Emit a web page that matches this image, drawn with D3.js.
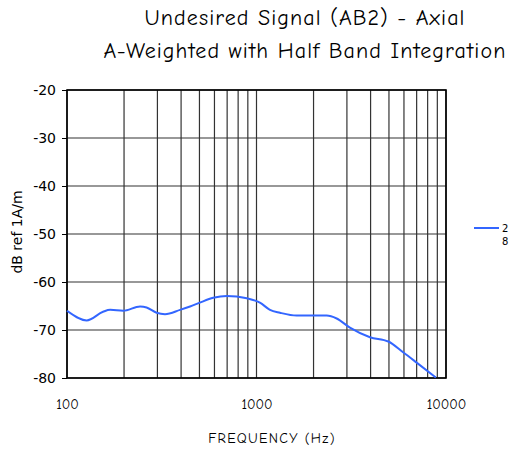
<!DOCTYPE html>
<html>
<head>
<meta charset="utf-8">
<script src="https://cdn.jsdelivr.net/npm/d3@7"></script>
<style>
  body { margin: 0; background: #fff; }
  svg { display: block; }
</style>
</head>
<body>
<svg id="chart" width="510" height="450"></svg>
<script>
// ---- data ----
const titleLines = ["Undesired Signal (AB2) - Axial", "A-Weighted with Half Band Integration"];
const freqs = [100, 127, 155, 169, 198, 243, 263, 297, 329, 395, 446, 502, 591, 696, 786, 888, 1042, 1178, 1330, 1629, 2345, 2649, 3112, 3970, 4963, 5960, 7000, 8850];
const levels = [-66, -68, -66.2, -65.8, -66, -65.1, -65.3, -66.4, -66.7, -65.8, -65.1, -64.3, -63.3, -62.9, -63, -63.4, -64.3, -65.8, -66.4, -67, -67, -67.6, -69.5, -71.5, -72.4, -74.7, -76.8, -79.9];
const xTickValues = [100, 1000, 10000];
const yTickValues = [-20, -30, -40, -50, -60, -70, -80];
const legendLabels = ["2", "8"];
const xTitle = "FREQUENCY (Hz)";
const yTitle = "dB ref 1A/m";

// ---- layout ----
const svg = d3.select("#chart");
const pL = 67, pR = 446, pT = 90, pB = 378;
const x = d3.scaleLog().domain([100, 10000]).range([pL, pR]);
const y = d3.scaleLinear().domain([-80, -20]).range([pB, pT]);

const titleFont = "'Comic Sans MS', 'Comic Neue', 'Open Sans', sans-serif";
const labelFont = "Verdana, 'DejaVu Sans', sans-serif";

// grid: vertical lines at each 1..9 * decade
const gridX = [];
for (let d = 100; d < 10000; d *= 10) for (let k = 1; k <= 9; k++) gridX.push(d * k);
gridX.push(10000);

const g = svg.append("g");
g.selectAll("line.vg").data(gridX).enter().append("line")
  .attr("class", "vg")
  .attr("x1", d => x(d)).attr("x2", d => x(d))
  .attr("y1", pT).attr("y2", pB)
  .attr("stroke", "#333").attr("stroke-width", 1.2);

g.selectAll("line.hg").data(yTickValues).enter().append("line")
  .attr("class", "hg")
  .attr("x1", pL).attr("x2", pR)
  .attr("y1", d => y(d)).attr("y2", d => y(d))
  .attr("stroke", "#333").attr("stroke-width", 1.2);

// frame
g.append("rect").attr("x", pL).attr("y", pT)
  .attr("width", pR - pL).attr("height", pB - pT)
  .attr("fill", "none").attr("stroke", "#000").attr("stroke-width", 1.6);

// y axis ticks & labels
const yAxis = d3.axisLeft(y).tickValues(yTickValues).tickSize(5).tickPadding(6).tickFormat(d => String(d));
const yg = svg.append("g").attr("transform", `translate(${pL},0)`).call(yAxis);
yg.select(".domain").remove();
yg.selectAll("text").attr("font-family", labelFont).attr("font-size", 14).attr("fill", "#000");
yg.selectAll("line").attr("stroke", "#000");

// x axis labels
const xAxis = d3.axisBottom(x).tickValues(xTickValues).tickSize(0).tickPadding(21).tickFormat(d => String(d));
const xg = svg.append("g").attr("transform", `translate(0,${pB})`).call(xAxis);
xg.select(".domain").remove();
xg.selectAll("text").attr("font-family", titleFont).attr("font-size", 14).attr("fill", "#000");

// data line
const line = d3.line().x(d => x(d[0])).y(d => y(d[1])).curve(d3.curveMonotoneX);
svg.append("path")
  .datum(freqs.map((f, i) => [f, levels[i]]))
  .attr("d", line)
  .attr("fill", "none")
  .attr("stroke", "#3366ff")
  .attr("stroke-width", 2);

// titles
svg.selectAll("text.title").data(titleLines).enter().append("text")
  .attr("class", "title")
  .attr("x", 305).attr("y", (d, i) => 25 + i * 33)
  .attr("text-anchor", "middle")
  .attr("font-family", titleFont).attr("font-size", 22)
  .attr("letter-spacing", 1.1)
  .text(d => d);

svg.append("text")
  .attr("x", 272).attr("y", 443)
  .attr("text-anchor", "middle")
  .attr("font-family", titleFont).attr("font-size", 14)
  .attr("letter-spacing", 1.3)
  .text(xTitle);

svg.append("text")
  .attr("transform", `translate(22,${(pT + pB) / 2 - 2}) rotate(-90)`)
  .attr("text-anchor", "middle")
  .attr("font-family", labelFont).attr("font-size", 14)
  .text(yTitle);

// legend
svg.append("line").attr("x1", 474).attr("x2", 499).attr("y1", 228).attr("y2", 228)
  .attr("stroke", "#3366ff").attr("stroke-width", 2);
svg.selectAll("text.leg").data(legendLabels).enter().append("text")
  .attr("class", "leg")
  .attr("x", 502).attr("y", (d, i) => 232 + i * 13)
  .attr("font-family", labelFont).attr("font-size", 10)
  .text(d => d);
</script>
</body>
</html>
